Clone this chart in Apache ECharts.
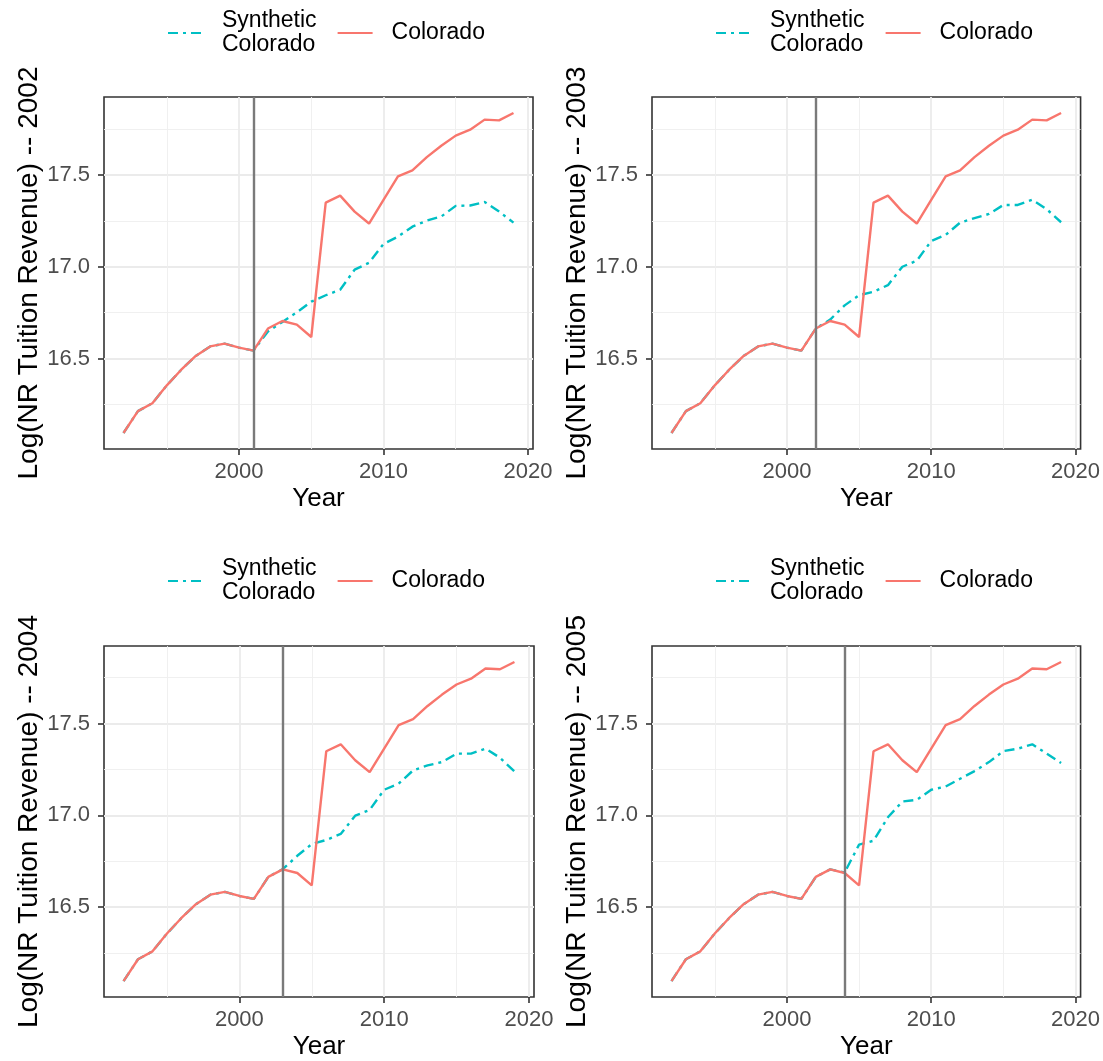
<!DOCTYPE html>
<html>
<head>
<meta charset="utf-8">
<script src="https://cdn.jsdelivr.net/npm/echarts@6/dist/echarts.min.js"></script>
<style>
  html, body { margin: 0; padding: 0; background: #ffffff; }
  #chart { width: 1103px; height: 1061px; }
</style>
</head>
<body>
<div id="chart"></div>
<script>
// ---------------- data ----------------
const years = [1992, 1993, 1994, 1995, 1996, 1997, 1998, 1999, 2000, 2001,
               2002, 2003, 2004, 2005, 2006, 2007, 2008, 2009, 2010, 2011,
               2012, 2013, 2014, 2015, 2016, 2017, 2018, 2019];

const colorado = [16.096, 16.215, 16.258, 16.355, 16.440, 16.515, 16.567, 16.582, 16.560, 16.544,
                  16.664, 16.705, 16.685, 16.618, 17.349, 17.387, 17.300, 17.235, 17.364, 17.491,
                  17.524, 17.596, 17.658, 17.713, 17.745, 17.800, 17.796, 17.836];

const synthetic2002 = [16.096, 16.215, 16.258, 16.355, 16.440, 16.515, 16.567, 16.582, 16.560, 16.544,
                       16.648, 16.700, 16.752, 16.810, 16.845, 16.875, 16.984, 17.022, 17.124, 17.164,
                       17.218, 17.251, 17.273, 17.331, 17.333, 17.352, 17.300, 17.240];

const synthetic2003 = [16.096, 16.215, 16.258, 16.355, 16.440, 16.515, 16.567, 16.582, 16.560, 16.544,
                       16.664, 16.713, 16.790, 16.845, 16.864, 16.900, 17.000, 17.033, 17.140, 17.173,
                       17.240, 17.264, 17.287, 17.336, 17.336, 17.364, 17.313, 17.242];

const synthetic2004 = [16.096, 16.215, 16.258, 16.355, 16.440, 16.515, 16.567, 16.582, 16.560, 16.544,
                       16.664, 16.706, 16.779, 16.843, 16.865, 16.898, 16.998, 17.029, 17.139, 17.172,
                       17.245, 17.272, 17.290, 17.336, 17.336, 17.363, 17.314, 17.239];

const synthetic2005 = [16.096, 16.215, 16.258, 16.355, 16.440, 16.515, 16.567, 16.582, 16.560, 16.544,
                       16.664, 16.705, 16.688, 16.840, 16.861, 16.989, 17.075, 17.084, 17.139, 17.157,
                       17.199, 17.241, 17.290, 17.350, 17.363, 17.387, 17.336, 17.285];

const panelLabels = ['2002', '2003', '2004', '2005'];
const treatmentLines = [2001, 2002, 2003, 2004];
const xTickLabels = [2000, 2010, 2020];
const yTickLabels = [16.5, 17.0, 17.5];
const seriesNames = ['Synthetic Colorado', 'Colorado'];

// ---------------- layout / style ----------------
const syntheticSets = [synthetic2002, synthetic2003, synthetic2004, synthetic2005];
const grids = [
  { left: 104, top: 97,  width: 429, height: 352 },
  { left: 652, top: 97,  width: 430, height: 352 },
  { left: 104, top: 646, width: 430, height: 351 },
  { left: 652, top: 646, width: 430, height: 351 }
];
const legendPos = [
  { left: 167, top: 9 }, { left: 715, top: 9 },
  { left: 167, top: 557 }, { left: 715, top: 557 }
];
const RED = '#F8766D', CYAN = '#00BFC4';
const FONT = '"Liberation Sans", Arial, Helvetica, sans-serif';

const allVals = colorado.concat(...syntheticSets);
const yLo = Math.min(...allVals), yHi = Math.max(...allVals);
const yPad = (yHi - yLo) * 0.05;
const xPad = (years[years.length - 1] - years[0]) * 0.05;

const pairs = arr => years.map((y, i) => [y, arr[i]]);

const option = {
  animation: false,
  backgroundColor: '#ffffff',
  textStyle: { fontFamily: FONT },
  grid: [], xAxis: [], yAxis: [], series: [], legend: []
};

for (let p = 0; p < 4; p++) {
  option.grid.push(Object.assign({
    show: true, borderColor: '#333333', borderWidth: 1.6,
    backgroundColor: '#ffffff', containLabel: false
  }, grids[p]));

  option.xAxis.push({
    type: 'value', gridIndex: p,
    min: years[0] - xPad, max: years[years.length - 1] + xPad,
    splitNumber: 3,
    name: 'Year', nameLocation: 'middle', nameGap: 37,
    nameTextStyle: { fontSize: 26, color: '#000000', fontFamily: FONT },
    axisLine: { show: false },
    axisTick: { show: true, length: 6, customValues: xTickLabels,
                lineStyle: { color: '#333333', width: 1.6 } },
    axisLabel: { show: true, customValues: xTickLabels, margin: 12, fontSize: 22,
                 color: '#4D4D4D', fontFamily: FONT, showMinLabel: true, showMaxLabel: true,
                 formatter: v => String(Math.round(v)) },
    splitLine: { show: true, lineStyle: { color: '#EBEBEB', width: 1.8 } },
    minorTick: { show: false, splitNumber: 2 },
    minorSplitLine: { show: true, lineStyle: { color: '#EEEEEE', width: 0.9 } }
  });

  option.yAxis.push({
    type: 'value', gridIndex: p,
    min: yLo - yPad, max: yHi + yPad,
    splitNumber: 4,
    name: 'Log(NR Tuition Revenue) -- ' + panelLabels[p],
    nameLocation: 'middle', nameGap: 60, nameRotate: 90,
    nameTextStyle: { fontSize: 28, color: '#000000', fontFamily: FONT },
    axisLine: { show: false },
    axisTick: { show: true, length: 6, customValues: yTickLabels,
                lineStyle: { color: '#333333', width: 1.6 } },
    axisLabel: { show: true, customValues: yTickLabels, margin: 14, fontSize: 22,
                 color: '#4D4D4D', fontFamily: FONT, showMinLabel: true, showMaxLabel: true,
                 formatter: v => v.toFixed(1) },
    splitLine: { show: true, lineStyle: { color: '#EBEBEB', width: 1.8 } },
    minorTick: { show: false, splitNumber: 2 },
    minorSplitLine: { show: true, lineStyle: { color: '#EEEEEE', width: 0.9 } }
  });

  option.legend.push({
    left: legendPos[p].left, top: legendPos[p].top,
    orient: 'horizontal', padding: 0,
    itemWidth: 35, itemHeight: 14, itemGap: 20,
    data: seriesNames,
    selectedMode: false,
    itemStyle: { opacity: 0 },
    formatter: n => n.replace(' ', '\n'),
    textStyle: { fontSize: 23, lineHeight: 24, color: '#000000', fontFamily: FONT,
                 padding: [0, 0, 0, 14] }
  });

  option.series.push({
    name: seriesNames[0], type: 'line', xAxisIndex: p, yAxisIndex: p,
    data: pairs(syntheticSets[p]), symbol: 'none', silent: true,
    lineStyle: { color: CYAN, width: 2.4, type: [10, 5, 3, 5], cap: 'butt' },
    itemStyle: { color: CYAN }
  });
  option.series.push({
    name: seriesNames[1], type: 'line', xAxisIndex: p, yAxisIndex: p,
    data: pairs(colorado), symbol: 'none', silent: true,
    lineStyle: { color: RED, width: 2.4, type: 'solid' },
    itemStyle: { color: RED },
    markLine: {
      silent: true, symbol: ['none', 'none'], label: { show: false },
      lineStyle: { color: '#7A7A7A', width: 2.4, type: 'solid' },
      data: [{ xAxis: treatmentLines[p] }]
    }
  });
}

const chart = echarts.init(document.getElementById('chart'), null, { renderer: 'canvas' });
chart.setOption(option);
</script>
</body>
</html>
